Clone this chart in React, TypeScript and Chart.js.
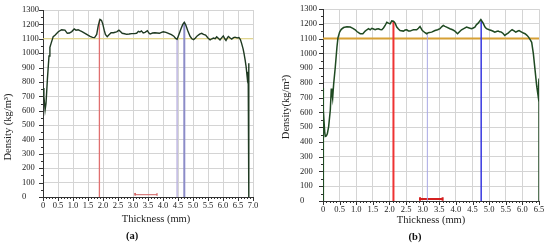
import React, { useEffect, useRef } from "react";
import { Chart, registerables } from "chart.js";

Chart.register(...registerables);

// ---------- Panel (a) data ----------
const thicknessA = [
  0, 0.03, 0.07, 0.1, 0.15, 0.2, 0.23, 0.28, 0.34, 0.4, 0.51, 0.62, 0.73, 0.81, 0.88, 0.96,
  1.04, 1.1, 1.17, 1.23, 1.3, 1.4, 1.5, 1.57, 1.65, 1.72, 1.79, 1.84, 1.9, 1.95, 1.99, 2.04,
  2.08, 2.14, 2.2, 2.27, 2.35, 2.4, 2.47, 2.53, 2.58, 2.64, 2.72, 2.79, 2.87, 2.96, 3.04,
  3.12, 3.18, 3.23, 3.28, 3.34, 3.4, 3.48, 3.53, 3.57, 3.65, 3.73, 3.8, 3.88, 3.95, 4.01,
  4.1, 4.18, 4.28, 4.36, 4.42, 4.47, 4.54, 4.6, 4.66, 4.71, 4.76, 4.82, 4.9, 4.96, 5.02,
  5.08, 5.14, 5.22, 5.29, 5.35, 5.42, 5.5, 5.57, 5.63, 5.68, 5.74, 5.79, 5.85, 5.9, 5.96,
  6.01, 6.06, 6.1, 6.15, 6.18, 6.24, 6.29, 6.35, 6.4, 6.47, 6.53, 6.58, 6.62, 6.67, 6.7,
  6.74, 6.77, 6.81, 6.84, 6.86, 6.86,
];
const densityA = [
  757, 700, 605, 650, 830, 980, 1040, 1075, 1115, 1125, 1149, 1163, 1160, 1138, 1140, 1150,
  1168, 1160, 1163, 1156, 1150, 1138, 1125, 1117, 1110, 1108, 1130, 1190, 1235, 1228, 1205, 1160,
  1130, 1115, 1128, 1142, 1142, 1145, 1150, 1160, 1150, 1138, 1135, 1131, 1133, 1136, 1136,
  1138, 1152, 1147, 1155, 1140, 1145, 1156, 1140, 1133, 1140, 1142, 1140, 1138, 1145, 1149,
  1145, 1138, 1128, 1118, 1102, 1096, 1135, 1170, 1200, 1214, 1195, 1160, 1118, 1100, 1094,
  1105, 1120, 1132, 1138, 1130, 1125, 1105, 1092, 1100, 1105, 1100, 1114, 1102, 1092, 1108,
  1120, 1100, 1088, 1108, 1116, 1105, 1098, 1108, 1111, 1106, 1108, 1095, 1068, 1030, 999,
  950, 906, 826, 870, 930, 0,
];
const markerXA = [1.88, 4.47, 4.71];
const markerTopA = [1232, 1096, 1213];
const bracketXA = [3.07, 3.8];
const levelA = 1100;
const xMaxA = 7.0;

// ---------- Panel (b) data ----------
const thicknessB = [
  0, 0, 0.02, 0.05, 0.07, 0.1, 0.13, 0.17, 0.22, 0.25, 0.27, 0.29, 0.32, 0.37, 0.42, 0.45,
  0.5, 0.55, 0.62, 0.72, 0.82, 0.9, 0.97, 1.02, 1.07, 1.12, 1.2, 1.27, 1.32, 1.37, 1.42,
  1.47, 1.52, 1.57, 1.62, 1.67, 1.72, 1.77, 1.82, 1.87, 1.92, 1.97, 2.02, 2.07, 2.12, 2.17,
  2.22, 2.27, 2.32, 2.42, 2.47, 2.52, 2.57, 2.62, 2.67, 2.72, 2.82, 2.87, 2.92, 2.99, 3.07,
  3.12, 3.17, 3.27, 3.37, 3.45, 3.52, 3.57, 3.62, 3.67, 3.72, 3.82, 3.9, 3.97, 4.05, 4.1,
  4.17, 4.25, 4.32, 4.4, 4.47, 4.52, 4.57, 4.62, 4.67, 4.75, 4.82, 4.87, 4.92, 5.0, 5.07,
  5.12, 5.17, 5.22, 5.27, 5.32, 5.37, 5.42, 5.47, 5.52, 5.57, 5.63, 5.69, 5.75, 5.8, 5.85,
  5.9, 5.95, 5.98, 6.03, 6.08, 6.13, 6.18, 6.23, 6.28, 6.33, 6.38, 6.43, 6.47, 6.5, 6.5,
];
const densityB = [
  0, 765, 616, 470, 437, 440, 455, 504, 616, 762, 729, 695, 790, 908, 1043, 1105,
  1145, 1163, 1175, 1180, 1178, 1170, 1160, 1148, 1140, 1133, 1133, 1151, 1160, 1167, 1160,
  1170, 1165, 1160, 1165, 1167, 1162, 1160, 1172, 1189, 1211, 1205, 1200, 1220, 1218, 1205,
  1178, 1165, 1155, 1151, 1158, 1160, 1152, 1151, 1156, 1160, 1160, 1170, 1182, 1155, 1140,
  1133, 1140, 1144, 1155, 1160, 1167, 1180, 1189, 1183, 1178, 1167, 1160, 1151, 1133, 1145,
  1160, 1170, 1178, 1172, 1167, 1172, 1178, 1195, 1205, 1229, 1205, 1180, 1167, 1160, 1155,
  1150, 1144, 1148, 1151, 1146, 1144, 1135, 1122, 1130, 1137, 1150, 1160, 1152, 1144, 1150,
  1155, 1148, 1144, 1138, 1133, 1124, 1112, 1095, 1075, 998, 890, 780, 717, 830, 0,
];
const markerXB = [2.12, 3.14, 4.76];
const markerTopB = [1219, 1138, 1228];
const bracketXB = [2.92, 3.6];
const levelB = 1100;
const xMaxB = 6.5;

const yMax = 1300;
const SERIF = '"Liberation Serif", "Times New Roman", serif';

type PanelStyle = {
  left: number;
  padLeft: number;
  yAxisW: number;
  padTop: number;
  padRight: number;
  xAxisH: number;
  curveColor: string;
  curveWidth: number;
  markerColors: string[];
  markerWidths: number[];
  levelColor: string;
  levelWidth: number;
  bracketColor: string;
  bracketWidth: number;
  bracketY: number;
  capLo: number;
  capHi: number;
  yTitle: string;
  yTitleX: number;
  yTitleY: number;
  yTitleSize: number;
  xTitleX: number;
  xTitleY: number;
  xTitleSize: number;
  labelText: string;
  labelX: number;
  labelY: number;
};

const decorPlugin = {
  id: "decor",
  afterDraw(chart: any, _args: any, opts: any) {
    const { ctx, chartArea: ca, scales } = chart;
    const x = scales.x;
    const y = scales.y;
    ctx.save();
    ctx.strokeStyle = "#333";
    ctx.lineWidth = 1;
    // minor ticks x
    const nx = Math.round(opts.xMax / 0.1);
    for (let i = 0; i <= nx; i++) {
      const v = i * 0.1;
      const px = Math.round(x.getPixelForValue(v)) + 0.5;
      const len = i % 5 === 0 ? 4 : 2;
      ctx.beginPath();
      ctx.moveTo(px, ca.bottom);
      ctx.lineTo(px, ca.bottom + len);
      ctx.stroke();
    }
    // minor ticks y
    for (let i = 0; i <= yMax / 50; i++) {
      const v = i * 50;
      const py = Math.round(y.getPixelForValue(v)) + 0.5;
      const len = i % 2 === 0 ? 4 : 2;
      ctx.beginPath();
      ctx.moveTo(ca.left, py);
      ctx.lineTo(ca.left - len, py);
      ctx.stroke();
    }
    ctx.fillStyle = "#222";
    ctx.textAlign = "center";
    ctx.textBaseline = "middle";
    // x title
    ctx.font = `${opts.xTitleSize}px ${SERIF}`;
    ctx.fillText("Thickness (mm)", opts.xTitleX, opts.xTitleY);
    // y title
    ctx.save();
    ctx.translate(opts.yTitleX, opts.yTitleY);
    ctx.rotate(-Math.PI / 2);
    ctx.font = `${opts.yTitleSize}px ${SERIF}`;
    ctx.fillText(opts.yTitle, 0, 0);
    ctx.restore();
    // panel label
    ctx.fillStyle = "#111";
    ctx.font = `bold 10.5px ${SERIF}`;
    ctx.fillText(opts.labelText, opts.labelX, opts.labelY);
    ctx.restore();
  },
};

function Panel(props: {
  xs: number[];
  ys: number[];
  markerX: number[];
  markerTop: number[];
  bracketX: number[];
  level: number;
  xMax: number;
  s: PanelStyle;
}) {
  const ref = useRef<HTMLCanvasElement | null>(null);
  useEffect(() => {
    const { xs, ys, markerX, markerTop, bracketX, level, xMax, s } = props;
    const curve = xs.map((x, i) => ({ x, y: ys[i] }));
    const datasets: any[] = [
      {
        data: curve,
        borderColor: s.curveColor,
        borderWidth: s.curveWidth,
        pointRadius: 0,
        tension: 0,
        fill: false,
      },
    ];
    markerX.forEach((mx, i) => {
      datasets.push({
        data: [
          { x: mx, y: 0 },
          { x: mx, y: markerTop[i] },
        ],
        borderColor: s.markerColors[i],
        borderWidth: s.markerWidths[i],
        pointRadius: 0,
        fill: false,
      });
    });
    datasets.push({
      data: [
        { x: 0, y: level },
        { x: xMax, y: level },
      ],
      borderColor: s.levelColor,
      borderWidth: s.levelWidth,
      pointRadius: 0,
      fill: false,
    });
    datasets.push({
      data: [
        { x: bracketX[0], y: s.capHi },
        { x: bracketX[0], y: s.capLo },
        { x: bracketX[0], y: s.bracketY },
        { x: bracketX[1], y: s.bracketY },
        { x: bracketX[1], y: s.capLo },
        { x: bracketX[1], y: s.capHi },
      ],
      borderColor: s.bracketColor,
      borderWidth: s.bracketWidth,
      pointRadius: 0,
      fill: false,
    });

    const tickFont = { family: SERIF, size: 8.5 };
    const chart = new Chart(ref.current as HTMLCanvasElement, {
      type: "line",
      data: { datasets },
      plugins: [decorPlugin],
      options: {
        responsive: false,
        animation: false,
        events: [],
        layout: {
          padding: { left: s.padLeft, top: s.padTop, right: s.padRight, bottom: 0 },
        },
        plugins: {
          legend: { display: false },
          tooltip: { enabled: false },
          decor: {
            xMax,
            yTitle: s.yTitle,
            yTitleX: s.yTitleX,
            yTitleY: s.yTitleY,
            yTitleSize: s.yTitleSize,
            xTitleX: s.xTitleX,
            xTitleY: s.xTitleY,
            xTitleSize: s.xTitleSize,
            labelText: s.labelText,
            labelX: s.labelX,
            labelY: s.labelY,
          },
        } as any,
        scales: {
          x: {
            type: "linear",
            min: 0,
            max: xMax,
            ticks: {
              stepSize: 0.5,
              autoSkip: false,
              maxRotation: 0,
              padding: 4,
              font: tickFont,
              color: "#222",
              callback: (v: any) => (Number(v) === 0 ? "0" : Number(v).toFixed(1)),
            },
            grid: { color: "#d4d4d4", drawTicks: false, lineWidth: 1 },
            border: { color: "#333", width: 1 },
            afterFit: (sc: any) => {
              sc.height = s.xAxisH;
            },
          },
          y: {
            type: "linear",
            min: 0,
            max: yMax,
            ticks: {
              stepSize: 100,
              crossAlign: "far",
              padding: 4,
              font: tickFont,
              color: "#222",
              callback: (v: any) => String(Math.round(Number(v))),
            },
            grid: { color: "#d4d4d4", drawTicks: false, lineWidth: 1 },
            border: { color: "#333", width: 1 },
            afterFit: (sc: any) => {
              sc.width = s.yAxisW;
            },
          },
        },
      } as any,
    });
    return () => chart.destroy();
  }, []);
  return (
    <canvas
      ref={ref}
      width={275}
      height={246}
      style={{ position: "absolute", left: props.s.left, top: 0, width: 275, height: 246 }}
    />
  );
}

const styleA: PanelStyle = {
  left: 0,
  padLeft: 22,
  yAxisW: 21,
  padTop: 10,
  padRight: 22,
  xAxisH: 49,
  curveColor: "#1f3a22",
  curveWidth: 1.4,
  markerColors: ["#e07070", "#b4acdc", "#8c8cc8"],
  markerWidths: [1.3, 1.3, 2],
  levelColor: "#e6d67a",
  levelWidth: 1,
  bracketColor: "#d06060",
  bracketWidth: 1,
  bracketY: 16,
  capLo: 10,
  capHi: 28,
  yTitle: "Density (kg/m³)",
  yTitleX: 8,
  yTitleY: 127,
  yTitleSize: 10.5,
  xTitleX: 156,
  xTitleY: 219,
  xTitleSize: 10.5,
  labelText: "(a)",
  labelX: 132,
  labelY: 236,
};

const styleB: PanelStyle = {
  left: 275,
  padLeft: 25,
  yAxisW: 23,
  padTop: 8,
  padRight: 11,
  xAxisH: 45,
  curveColor: "#1f4a22",
  curveWidth: 1.5,
  markerColors: ["#ee3333", "#a8a8e4", "#3838e0"],
  markerWidths: [2, 1, 1.5],
  levelColor: "#d6a035",
  levelWidth: 2,
  bracketColor: "#d42020",
  bracketWidth: 2,
  bracketY: 14,
  capLo: 2,
  capHi: 26,
  yTitle: "Density(kg/m³)",
  yTitleX: 11.5,
  yTitleY: 107,
  yTitleSize: 10.5,
  xTitleX: 156,
  xTitleY: 220,
  xTitleSize: 10.5,
  labelText: "(b)",
  labelX: 140,
  labelY: 237,
};

export default function App() {
  return (
    <div style={{ position: "absolute", left: 0, top: 0, width: 550, height: 246, background: "#fff" }}>
      <Panel
        xs={thicknessA}
        ys={densityA}
        markerX={markerXA}
        markerTop={markerTopA}
        bracketX={bracketXA}
        level={levelA}
        xMax={xMaxA}
        s={styleA}
      />
      <Panel
        xs={thicknessB}
        ys={densityB}
        markerX={markerXB}
        markerTop={markerTopB}
        bracketX={bracketXB}
        level={levelB}
        xMax={xMaxB}
        s={styleB}
      />
    </div>
  );
}
